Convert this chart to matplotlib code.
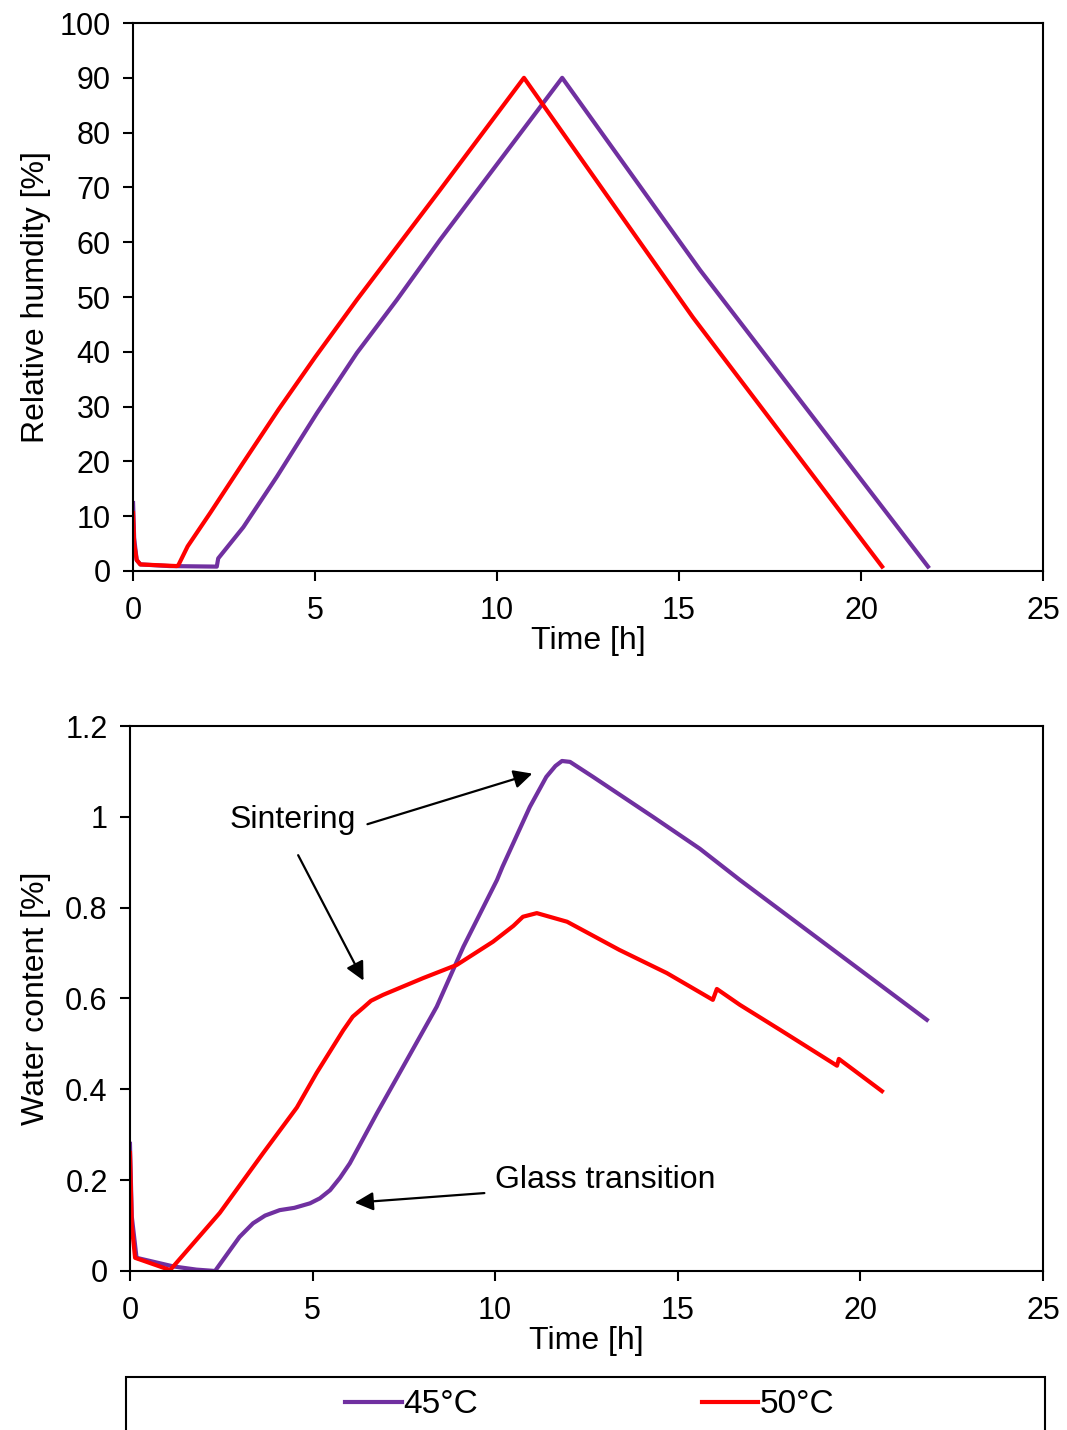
import matplotlib
matplotlib.use("Agg")
import matplotlib.pyplot as plt
from matplotlib.patches import Rectangle

plt.rcParams['font.family'] = ['Liberation Sans', 'DejaVu Sans']
plt.rcParams['font.size'] = 22

# colours of the two series
purple = '#7030A0'
red = '#FF0000'

# --- relative humidity vs time (top panel)
rh_t_45 = [0.0, 0.03, 0.1, 0.2, 1.0, 2.3, 2.34, 3.03, 3.95, 5.05, 6.15, 7.25, 8.43, 11.79, 15.58, 21.84]
rh_45 = [12.4, 6.0, 2.0, 1.2, 0.9, 0.8, 2.3, 8.0, 17.2, 28.8, 39.8, 49.5, 60.4, 90.0, 54.9, 0.8]

rh_t_50 = [0.0, 0.03, 0.1, 0.2, 1.2, 1.24, 1.5, 2.12, 3.0, 4.0, 5.0, 6.15, 8.43, 10.74, 15.38, 20.58]
rh_50 = [10.6, 5.0, 2.0, 1.2, 0.9, 1.0, 4.5, 10.6, 19.5, 29.5, 39.0, 49.5, 69.5, 90.0, 46.3, 0.8]

# --- water content vs time (bottom panel)
wc_t_45 = [0.0, 0.05, 0.18, 1.19, 1.82, 2.33, 2.74, 3.0, 3.37, 3.7, 4.1, 4.5, 4.93, 5.2, 5.48, 5.75, 6.02,
           6.76, 7.48, 8.4, 9.13, 10.05, 10.2, 10.95, 11.4, 11.65, 11.83, 12.05, 12.68, 14.32, 15.6, 16.7, 21.82]
wc_45 = [0.28, 0.12, 0.029, 0.01, 0.003, 0.0, 0.046, 0.075, 0.105, 0.122, 0.134, 0.139, 0.149, 0.16, 0.178, 0.205,
         0.237, 0.347, 0.45, 0.582, 0.714, 0.861, 0.89, 1.022, 1.088, 1.112, 1.123, 1.121, 1.088, 1.0, 0.93, 0.861,
         0.553]

wc_t_50 = [0.0, 0.05, 0.14, 1.1, 2.46, 3.65, 4.57, 5.11, 5.84, 6.1, 6.39, 6.6, 6.93, 8.03, 8.95, 9.94, 10.5,
           10.76, 11.14, 11.97, 13.4, 14.7, 15.96, 16.07, 16.7, 17.8, 19.36, 19.41, 20.59]
wc_50 = [0.26, 0.1, 0.029, 0.002, 0.128, 0.26, 0.36, 0.436, 0.53, 0.56, 0.58, 0.595, 0.608, 0.645, 0.674, 0.725,
         0.76, 0.78, 0.788, 0.769, 0.707, 0.656, 0.597, 0.621, 0.586, 0.531, 0.452, 0.467, 0.396]

x_ticks = [0, 5, 10, 15, 20, 25]
rh_ticks = [0, 10, 20, 30, 40, 50, 60, 70, 80, 90, 100]
wc_ticks = [0, 0.2, 0.4, 0.6, 0.8, 1.0, 1.2]
wc_tick_labels = ['0', '0.2', '0.4', '0.6', '0.8', '1', '1.2']

fig = plt.figure(figsize=(10.67, 14.30), dpi=100)
ax1 = fig.add_axes([0.1247, 0.6007, 0.8528, 0.3832])
ax2 = fig.add_axes([0.1218, 0.1112, 0.8557, 0.3811])


def style_axes(ax):
    for sp in ax.spines.values():
        sp.set_linewidth(1.5)
        sp.set_color('black')
    ax.tick_params(direction='out', length=7, width=1.5, labelsize=22)
    ax.tick_params(axis='x', pad=11)
    ax.tick_params(axis='y', pad=9)
    ax.set_xlim(0, 25)
    ax.set_xticks(x_ticks)
    ax.set_xlabel('Time [h]', fontsize=23, labelpad=0)


ax1.plot(rh_t_45, rh_45, color=purple, lw=3.0, label='45°C')
ax1.plot(rh_t_50, rh_50, color=red, lw=3.0, label='50°C')
style_axes(ax1)
ax1.set_ylim(0, 100)
ax1.set_yticks(rh_ticks)
ax1.set_ylabel('Relative humdity [%]', fontsize=23, labelpad=6)

ax2.plot(wc_t_45, wc_45, color=purple, lw=3.0)
ax2.plot(wc_t_50, wc_50, color=red, lw=3.0)
style_axes(ax2)
ax2.set_ylim(0, 1.2)
ax2.set_yticks(wc_ticks)
ax2.set_yticklabels(wc_tick_labels)
ax2.set_ylabel('Water content [%]', fontsize=23, labelpad=10)

# annotations
arrow = dict(arrowstyle='-|>', color='black', lw=1.6, mutation_scale=28)
ax2.text(2.74, 0.993, 'Sintering', fontsize=23, va='center', ha='left')
ax2.annotate('', xy=(11.09, 1.097), xytext=(6.43, 0.982), arrowprops=arrow)
ax2.annotate('', xy=(6.43, 0.634), xytext=(4.57, 0.921), arrowprops=arrow)
ax2.text(9.99, 0.2, 'Glass transition', fontsize=23, va='center', ha='left')
ax2.annotate('', xy=(6.08, 0.15), xytext=(9.78, 0.172), arrowprops=arrow)

# legend box at the bottom
fig.patches.append(Rectangle((0.118, -0.01), 0.861, 0.047, transform=fig.transFigure,
                             fill=False, lw=1.5, edgecolor='black'))
handles, labels = ax1.get_legend_handles_labels()
fig.legend(handles, labels, loc='center', bbox_to_anchor=(0.553, 0.0175), ncol=2, frameon=False,
           fontsize=24, handlelength=1.7, handletextpad=0.05, columnspacing=6.7)

fig.savefig('out.png', dpi=100)
